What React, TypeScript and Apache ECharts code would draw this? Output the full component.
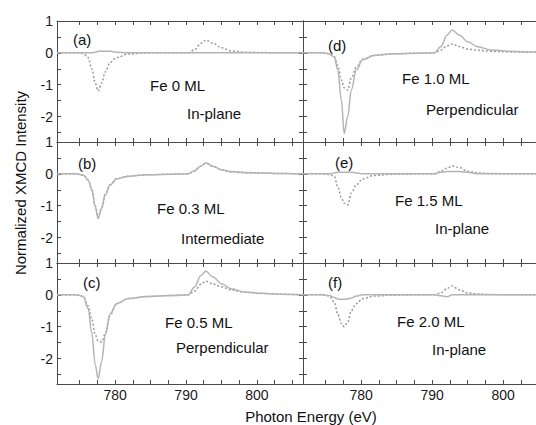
import React, { useEffect, useRef } from "react";
import * as echarts from "echarts";

// Photon energy grid (eV), shared by all spectra
const energy = [771.8, 774.5, 775.5, 776.2, 776.7, 777.2, 777.6, 778.1, 778.6, 779.3, 780.2, 781.8, 784.5, 788, 790.3, 791.2, 792.1, 792.8, 793.8, 795, 796.4, 798.3, 800.6, 803.4, 806.5];

// (a) Fe 0 ML In-plane
const aSolid = [0, 0, 0, 0, 0, 0.02, 0.05, 0.05, 0.05, 0.05, 0.02, 0, 0, 0, 0, 0, 0, 0, 0, 0, 0, 0, 0, 0, 0];
const aDotted = [0, 0, -0.02, -0.15, -0.5, -0.95, -1.2, -0.95, -0.6, -0.3, -0.15, -0.04, 0, 0, 0, 0.1, 0.3, 0.4, 0.3, 0.16, 0.06, 0.02, 0.01, 0, 0];
// (b) Fe 0.3 ML Intermediate
const bSolid = [0, 0, -0.04, -0.2, -0.5, -1.03, -1.4, -1.08, -0.66, -0.35, -0.16, -0.08, -0.03, -0.01, 0, 0.1, 0.25, 0.35, 0.24, 0.13, 0.07, 0.04, 0.03, 0.01, 0];
const bDotted = [0, 0, -0.04, -0.19, -0.48, -1.0, -1.38, -1.07, -0.65, -0.34, -0.15, -0.07, -0.03, -0.01, 0, 0.09, 0.24, 0.33, 0.23, 0.12, 0.06, 0.03, 0.02, 0.01, 0];
// (c) Fe 0.5 ML Perpendicular
const cSolid = [0, 0, -0.05, -0.43, -1.2, -2.2, -2.63, -2.1, -1.27, -0.59, -0.28, -0.12, -0.05, -0.02, 0, 0.25, 0.61, 0.74, 0.56, 0.35, 0.19, 0.09, 0.05, 0.02, 0];
const cDotted = [0, 0, -0.05, -0.35, -0.75, -1.26, -1.45, -1.48, -1.22, -0.64, -0.28, -0.12, -0.05, -0.02, 0, 0.12, 0.33, 0.43, 0.34, 0.25, 0.15, 0.08, 0.04, 0.02, 0];
// (d) Fe 1.0 ML Perpendicular
const dSolid = [0, 0, -0.03, -0.12, -0.54, -1.48, -2.53, -2.0, -1.17, -0.54, -0.22, -0.08, -0.03, -0.01, 0, 0.19, 0.56, 0.72, 0.56, 0.35, 0.19, 0.09, 0.05, 0.03, 0];
const dDotted = [0, 0, -0.03, -0.12, -0.4, -0.85, -1.1, -1.17, -0.8, -0.45, -0.2, -0.08, -0.03, -0.01, 0, 0.08, 0.22, 0.28, 0.2, 0.12, 0.08, 0.05, 0.03, 0.02, 0];
// (e) Fe 1.5 ML In-plane
const eSolid = [0, 0, 0, 0.03, 0.05, 0.05, 0.05, 0.05, 0.05, 0.03, 0, 0, 0, 0, 0, 0.05, 0.07, 0.07, 0.07, 0.05, 0, 0, 0, 0, 0];
const eDotted = [0, 0, -0.02, -0.08, -0.4, -0.75, -0.92, -0.98, -0.6, -0.35, -0.16, -0.05, -0.01, 0, 0, 0.08, 0.18, 0.25, 0.2, 0.08, 0.03, 0.01, 0, 0, 0];
// (f) Fe 2.0 ML In-plane
const fSolid = [0, 0, -0.02, -0.08, -0.13, -0.14, -0.14, -0.13, -0.1, -0.04, 0, 0, 0, 0, 0, -0.03, -0.06, 0, 0, 0, 0, 0, 0, 0, 0];
const fDotted = [0, 0, -0.03, -0.22, -0.6, -0.9, -1.0, -0.85, -0.5, -0.28, -0.12, -0.04, -0.01, 0, 0, 0.06, 0.2, 0.28, 0.16, 0.06, 0.03, 0.01, 0, 0, 0];

const panelLetters = ["(a)", "(b)", "(c)", "(d)", "(e)", "(f)"];
const panelSamples = ["Fe 0 ML", "Fe 0.3 ML", "Fe 0.5 ML", "Fe 1.0 ML", "Fe 1.5 ML", "Fe 2.0 ML"];
const panelModes = ["In-plane", "Intermediate", "Perpendicular", "Perpendicular", "In-plane", "In-plane"];

const xTickValues = [775, 777.5, 780, 782.5, 785, 787.5, 790, 792.5, 795, 797.5, 800, 802.5, 805];
const xLabelValues = [780, 790, 800];
const yTickValues = [-2.5, -2, -1.5, -1, -0.5, 0, 0.5, 1];
const yLabelValues = [-2, -1, 0, 1];

const xTitle = "Photon Energy (eV)";
const yTitle = "Normalized XMCD Intensity";

const FONT = "'Liberation Sans', Arial, Helvetica, sans-serif";

export default function App() {
  const ref = useRef<HTMLDivElement>(null);

  useEffect(() => {
    if (!ref.current) return;
    const chart = echarts.init(ref.current, undefined, { renderer: "svg" });

    const solids = [aSolid, bSolid, cSolid, dSolid, eSolid, fSolid];
    const dotteds = [aDotted, bDotted, cDotted, dDotted, eDotted, fDotted];

    const tops = [21, 142, 263];
    const H = 121;
    const grids: any[] = [];
    const xAxes: any[] = [];
    const yAxes: any[] = [];
    const series: any[] = [];
    const axisColor = "#4a4a4a";

    for (let p = 0; p < 6; p++) {
      const col = p < 3 ? 0 : 1;
      const row = p % 3;
      const left = col === 0 ? 57 : 303;
      const width = col === 0 ? 246 : 233;
      const xMax = col === 0 ? 806.5 : 771.8 + 233 / 7.1;
      grids.push({ left, top: tops[row], width, height: H, containLabel: false });

      const baseX = {
        gridIndex: p,
        type: "value",
        min: 771.8,
        max: xMax,
        splitLine: { show: false },
        axisLine: { show: true, onZero: false, lineStyle: { color: axisColor, width: 1 } },
        axisTick: { show: true, inside: true, length: 4, customValues: xTickValues, lineStyle: { color: axisColor } },
      };
      xAxes.push({
        ...baseX,
        position: "bottom",
        axisLabel: {
          show: row === 2,
          customValues: xLabelValues,
          color: "#1a1a1a",
          fontSize: 14,
          fontFamily: FONT,
          margin: 4,
        },
      });
      xAxes.push({ ...baseX, position: "top", axisLabel: { show: false } });

      const baseY = {
        gridIndex: p,
        type: "value",
        min: -2.8,
        max: 1,
        splitLine: { show: false },
        axisLine: { show: true, onZero: false, lineStyle: { color: axisColor, width: 1 } },
        axisTick: { show: true, inside: true, length: 4, customValues: yTickValues, lineStyle: { color: axisColor } },
      };
      yAxes.push({
        ...baseY,
        position: "left",
        axisLabel: {
          show: col === 0,
          customValues: yLabelValues,
          color: "#1a1a1a",
          fontSize: 14,
          fontFamily: FONT,
          margin: 4,
        },
      });
      yAxes.push({
        ...baseY,
        position: "right",
        show: col === 0,
        axisLabel: { show: false },
      });

      const solidData = energy.map((e, i) => [e, solids[p][i]]);
      const dottedData = energy.map((e, i) => [e, dotteds[p][i]]);
      series.push({
        type: "line",
        xAxisIndex: 2 * p,
        yAxisIndex: 2 * p,
        data: dottedData,
        showSymbol: false,
        smooth: 0.35,
        smoothMonotone: "x",
        clip: true,
        lineStyle: { color: "#9a9a9a", width: 1.5, type: [2, 2] },
      });
      series.push({
        type: "line",
        xAxisIndex: 2 * p,
        yAxisIndex: 2 * p,
        data: solidData,
        showSymbol: false,
        smooth: 0.35,
        smoothMonotone: "x",
        clip: true,
        lineStyle: { color: "#b4b4b4", width: 1.5 },
      });
    }

    const txt = (text: string, x: number, y: number, extra: any = {}) => ({
      type: "text",
      x,
      y,
      silent: true,
      style: {
        text,
        fill: "#111",
        fontSize: 15,
        fontFamily: FONT,
        textAlign: "left",
        textVerticalAlign: "middle",
        ...extra,
      },
    });

    const letterPos = [[73, 39], [78, 163], [83, 282], [328, 45], [335, 162], [328, 282]];
    const samplePos = [[150, 85], [157, 208], [165, 322], [402, 78], [395, 200], [397, 321]];
    const modePos = [[187, 113], [181, 238], [176, 347], [426, 109], [435, 228], [432, 349]];

    const graphics: any[] = [];
    for (let p = 0; p < 6; p++) {
      graphics.push(txt(panelLetters[p], letterPos[p][0], letterPos[p][1]));
      graphics.push(txt(panelSamples[p], samplePos[p][0], samplePos[p][1]));
      graphics.push(txt(panelModes[p], modePos[p][0], modePos[p][1]));
    }
    graphics.push(txt(xTitle, 311, 416, { textAlign: "center" }));
    graphics.push({
      ...txt(yTitle, 20, 183, { textAlign: "center" }),
      rotation: Math.PI / 2,
    });

    chart.setOption({
      animation: false,
      backgroundColor: "#ffffff",
      grid: grids,
      xAxis: xAxes,
      yAxis: yAxes,
      series,
      graphic: graphics,
    });

    return () => chart.dispose();
  }, []);

  return (
    <div
      ref={ref}
      style={{ position: "fixed", left: 0, top: 0, width: 536, height: 425, background: "#fff" }}
    />
  );
}
